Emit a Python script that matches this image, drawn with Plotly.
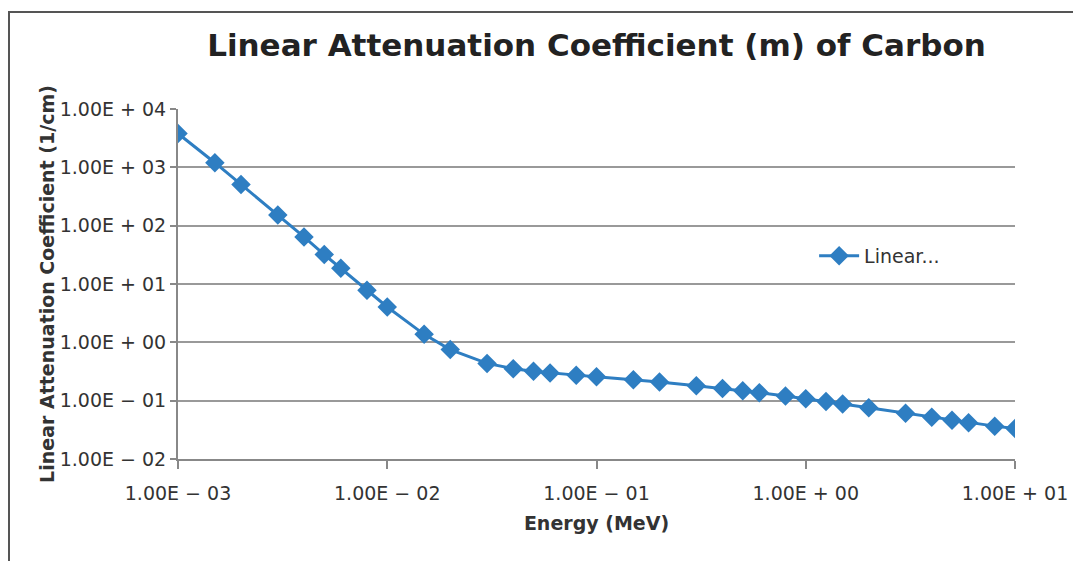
import plotly.graph_objects as go

energy_mev = [0.001, 0.0015, 0.002, 0.003, 0.004, 0.005, 0.006, 0.008, 0.01,
              0.015, 0.02, 0.03, 0.04, 0.05, 0.06, 0.08, 0.1, 0.15, 0.2, 0.3,
              0.4, 0.5, 0.6, 0.8, 1.0, 1.25, 1.5, 2.0, 3.0, 4.0, 5.0, 6.0, 8.0, 10.0]
mu_linear = [3800, 1200, 510, 153, 64, 32, 18.6, 7.8, 4.03,
             1.37, 0.75, 0.435, 0.353, 0.318, 0.298, 0.274, 0.257, 0.229, 0.209, 0.181,
             0.162, 0.148, 0.137, 0.120, 0.108, 0.0967, 0.088, 0.0755, 0.0606, 0.0518,
             0.046, 0.042, 0.0366, 0.0333]

x_tickvals = [1e-3, 1e-2, 1e-1, 1e0, 1e1]
x_ticktext = ["1.00E \u2212 03", "1.00E \u2212 02", "1.00E \u2212 01", "1.00E + 00", "1.00E + 01"]
y_tickvals = [1e-2, 1e-1, 1e0, 1e1, 1e2, 1e3, 1e4]
y_ticktext = ["1.00E \u2212 02", "1.00E \u2212 01", "1.00E + 00", "1.00E + 01",
              "1.00E + 02", "1.00E + 03", "1.00E + 04"]

blue = "#2E7EC2"
font_family = "Verdana, DejaVu Sans, sans-serif"

fig = go.Figure()
fig.add_trace(go.Scatter(
    x=energy_mev, y=mu_linear, mode="lines+markers", name="Linear...",
    line=dict(color=blue, width=3),
    marker=dict(symbol="diamond", size=15, color=blue),
))

fig.update_layout(
    width=1073, height=561,
    margin=dict(l=178, r=58, t=109, b=102, autoexpand=False),
    paper_bgcolor="white", plot_bgcolor="white",
    font=dict(family=font_family, color="#333333", size=19),
    title=dict(text="<b>Linear Attenuation Coefficient (m) of Carbon</b>",
               x=0.5, xref="paper", xanchor="center",
               y=1 - 45 / 561, yref="container", yanchor="middle",
               font=dict(size=31, color="#222222", family=font_family)),
    showlegend=True,
    legend=dict(x=0.76, y=0.58, xanchor="left", yanchor="middle",
                bgcolor="rgba(0,0,0,0)", font=dict(size=19, color="#333333"),
                itemwidth=40),
)

fig.update_xaxes(
    type="log", range=[-3, 1], automargin=False,
    tickvals=x_tickvals, ticktext=x_ticktext,
    showgrid=False, showline=True, linecolor="#888888", linewidth=2,
    ticks="outside", ticklen=8, tickcolor="#888888", tickwidth=2,
    ticklabelstandoff=8,
    title=dict(text="<b>Energy (MeV)</b>", font=dict(size=19, color="#333333"), standoff=14),
    tickfont=dict(size=19, color="#333333"),
)
fig.update_yaxes(
    type="log", range=[-2, 4], automargin=False,
    tickvals=y_tickvals, ticktext=y_ticktext,
    showgrid=True, gridcolor="#999999", gridwidth=2,
    showline=True, linecolor="#888888", linewidth=2,
    ticks="outside", ticklen=6, tickcolor="#888888", tickwidth=2,
    zeroline=False,
    title=dict(text="<b>Linear Attenuation Coefficient (1/cm)</b>",
               font=dict(size=19, color="#333333"), standoff=0),
    tickfont=dict(size=19, color="#333333"),
)

# Outer frame of the chart
fig.add_shape(type="rect", xref="paper", yref="paper",
              x0=(9 - 178) / 837, x1=(1085 - 178) / 837,
              y0=(459 - 575) / 350, y1=(459 - 12) / 350,
              line=dict(color="#555555", width=2), fillcolor="rgba(0,0,0,0)", layer="below")

fig.write_html("out.html")
